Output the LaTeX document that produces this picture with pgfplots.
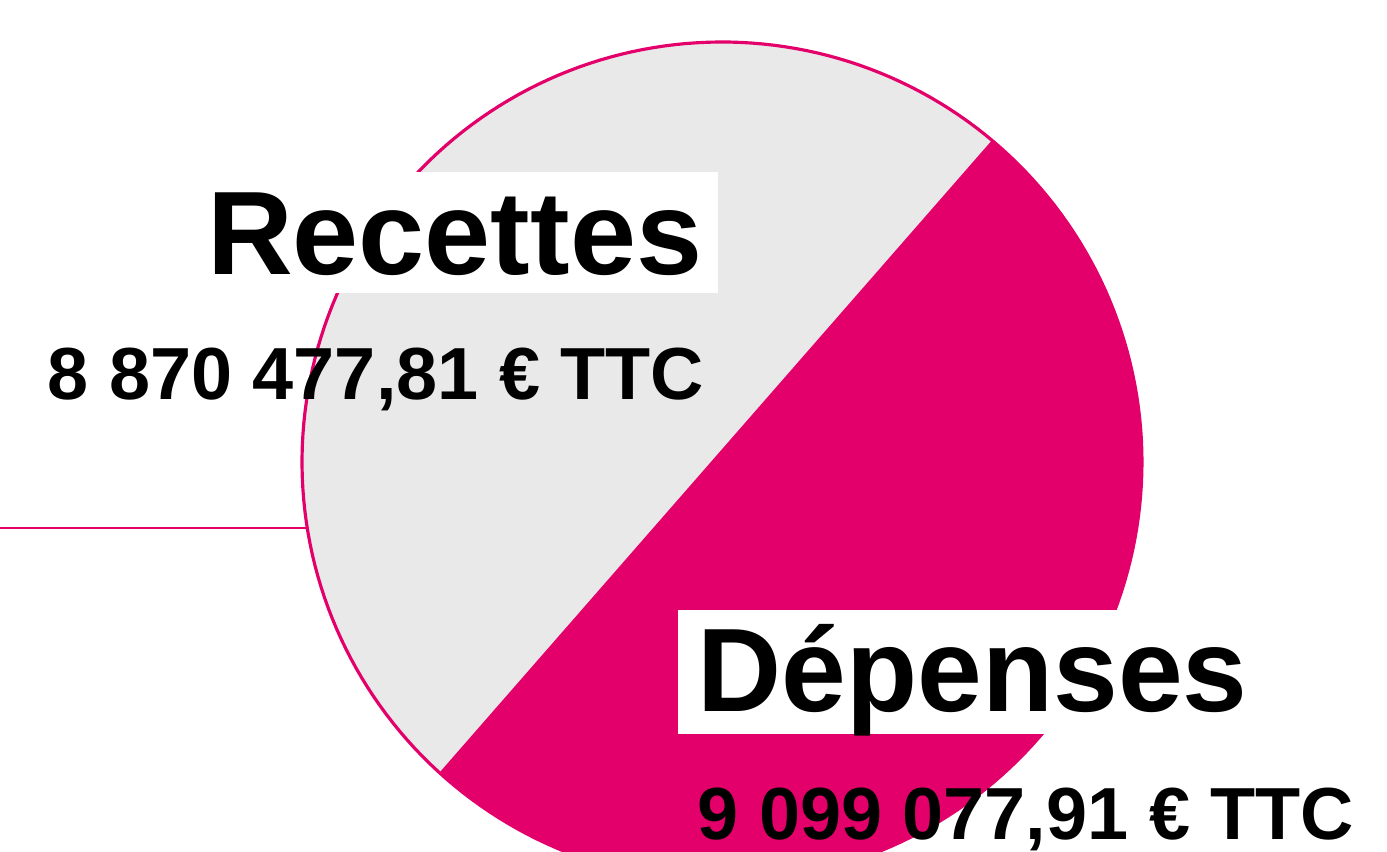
\documentclass[border=0pt]{standalone}
\usepackage{pgfplots}
\pgfplotsset{compat=1.18}
\usepackage{fontspec}
\setmainfont{Liberation Sans}
\definecolor{piepink}{HTML}{E3006A}
\definecolor{piegray}{HTML}{E9E9E9}
% values in millions of EUR TTC
\pgfmathsetmacro{\recettes}{8.87047781}
\pgfmathsetmacro{\depenses}{9.09907791}
\pgfmathsetmacro{\total}{\recettes+\depenses}
\pgfmathsetmacro{\aStart}{50}
\pgfmathsetmacro{\aMid}{\aStart+360*\recettes/\total}
\pgfmathsetmacro{\aEnd}{\aStart+360}
\begin{document}
\begin{tikzpicture}
\begin{axis}[
  scale only axis, width=13.87cm, height=8.52cm,
  xmin=0, xmax=1387, ymin=0, ymax=852,
  hide axis, clip=true,
]
% connector line
\addplot[piepink, line width=0.75pt] coordinates {(0,324) (307,324)};
% parts (split by a straight chord)
\addplot[fill=piegray, draw=none, domain=\aStart:\aMid, samples=150, variable=\t]
  ({722+420*cos(\t)},{390+420*sin(\t)}) -- cycle;
\addplot[fill=piepink, draw=none, domain=\aMid:\aEnd, samples=150, variable=\t]
  ({722+420*cos(\t)},{390+420*sin(\t)}) -- cycle;
% outline
\addplot[piepink, line width=0.9pt, domain=0:360, samples=240, variable=\t]
  ({722+420*cos(\t)},{390+420*sin(\t)});
% label boxes
\fill[white] (axis cs:205,559) rectangle (axis cs:718,680);
\fill[white] (axis cs:678,118) rectangle (axis cs:1248,242);
\node[anchor=base east, inner sep=0pt, font=\fontsize{33.8}{40}\selectfont\bfseries] at (axis cs:703,577) {Recettes};
\node[anchor=base east, inner sep=0pt, font=\fontsize{21}{25}\selectfont\bfseries] at (axis cs:705,452) {8 870 477,81 € TTC};
\node[anchor=base west, inner sep=0pt, xscale=0.98, font=\fontsize{33.8}{40}\selectfont\bfseries] at (axis cs:697,140) {Dépenses};
\node[anchor=base west, inner sep=0pt, font=\fontsize{21}{25}\selectfont\bfseries] at (axis cs:697,12) {9 099 077,91 € TTC};
\end{axis}
\pgfresetboundingbox
\useasboundingbox (current axis.south west) rectangle (current axis.north east);
\end{tikzpicture}
\end{document}
